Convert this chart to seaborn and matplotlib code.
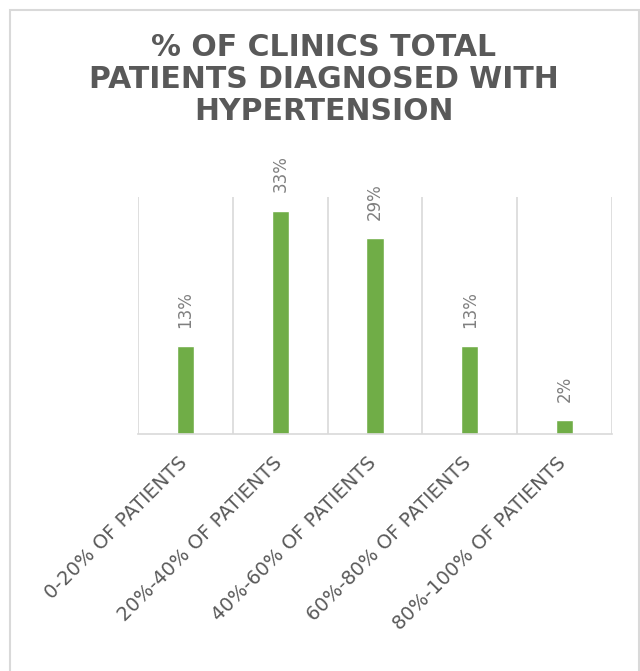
import numpy as np
import pandas as pd
import matplotlib
matplotlib.use("Agg")
import matplotlib.pyplot as plt
import matplotlib.transforms as mtransforms
from matplotlib.patches import Rectangle
import seaborn as sns

# data
categories = ["0-20% OF PATIENTS", "20%-40% OF PATIENTS", "40%-60% OF PATIENTS",
              "60%-80% OF PATIENTS", "80%-100% OF PATIENTS"]
shares = [0.13, 0.33, 0.29, 0.13, 0.02]
title = "% OF CLINICS TOTAL\nPATIENTS DIAGNOSED WITH\nHYPERTENSION"

df = pd.DataFrame({"category": categories, "share": shares})

sns.set_style("white")
plt.rcParams["font.family"] = ["DejaVu Sans"]

fig = plt.figure(figsize=(6.4, 6.71), dpi=100)
ax = fig.add_axes([138/640, 1 - 434/671, 474/640, 237/671])

sns.barplot(data=df, x="category", y="share", color="#70ad47", width=0.18,
            saturation=1, ax=ax)

ax.set_xlim(-0.5, len(categories) - 0.5)
ax.set_ylim(0, 0.35)
ax.set_xlabel("")
ax.set_ylabel("")
ax.set_yticks([])

# vertical gridlines between categories
ax.set_xticks(np.arange(-0.5, len(categories)), minor=True)
ax.grid(which="minor", axis="x", color="#d9d9d9", linewidth=1.2)
ax.tick_params(axis="x", which="minor", length=5, color="#d9d9d9", width=1.2)
ax.tick_params(axis="x", which="major", length=0, pad=4)

for side in ["top", "left", "right"]:
    ax.spines[side].set_visible(False)
ax.spines["bottom"].set_color("#d9d9d9")
ax.spines["bottom"].set_linewidth(1.2)

# rotated category labels
ax.set_xticks(range(len(categories)))
ax.set_xticklabels(categories, rotation=45, ha="right", va="top",
                   rotation_mode="anchor", fontsize=14, color="#595959")
offset = mtransforms.ScaledTranslation(-8/100, -14/100, fig.dpi_scale_trans)
for lab in ax.get_xticklabels():
    lab.set_transform(lab.get_transform() + offset)

# value labels above bars
for i, v in enumerate(shares):
    ax.annotate(f"{v:.0%}", (i, v), xytext=(0, 13), textcoords="offset points",
                rotation=90, ha="center", va="bottom", fontsize=12,
                color="#7f7f7f")

fig.text(324/640, 1 - 33/671, title, ha="center", va="top", fontsize=21.5,
         fontweight="bold", color="#595959", linespacing=1.12)

# chart frame
fig.patches.append(Rectangle((9.5/640, -0.1), 629/640, 1 - 10/671 + 0.1,
                             transform=fig.transFigure, fill=False,
                             edgecolor="#d9d9d9", linewidth=1.5))

fig.savefig("out.png", dpi=100)
